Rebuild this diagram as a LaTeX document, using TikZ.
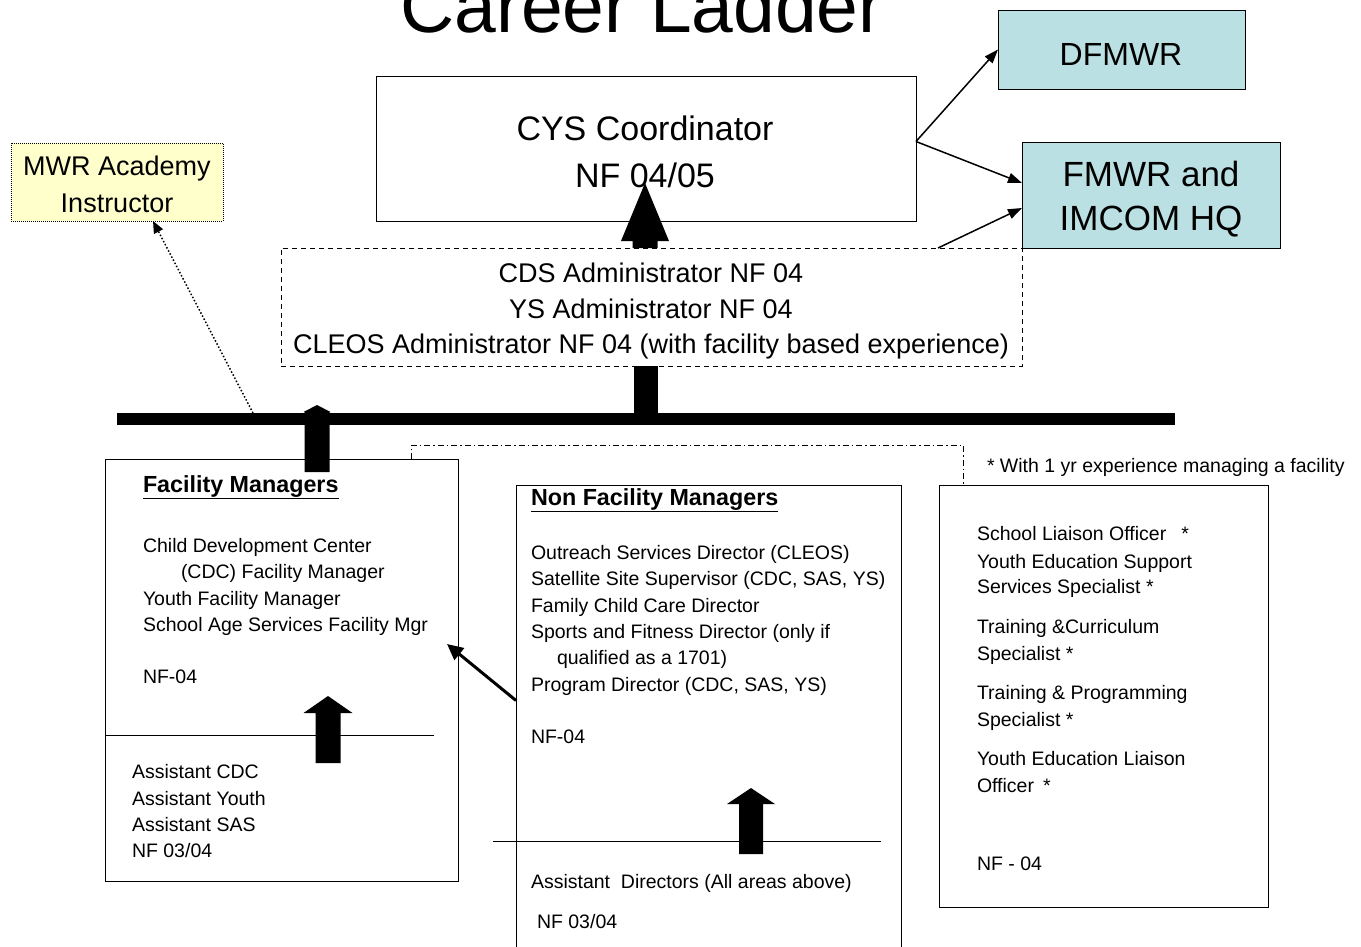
\documentclass[tikz,border=0pt]{standalone}
\usepackage{fontspec}
\setmainfont{Liberation Sans}
\usetikzlibrary{arrows.meta}
\definecolor{boxcyan}{RGB}{187,224,227}
\definecolor{boxyellow}{RGB}{255,255,204}
\newcommand\fsz[1]{\fontsize{#1}{#1}\selectfont}
% block arrow pointing up: x, bottom y, tip y, shaft width, head length, head width
\newcommand\blkarrow[6]{%
  \fill ({#1-#4/2},#2) -- ({#1-#4/2},{#3+#5}) -- ({#1-#6/2},{#3+#5}) -- (#1,#3)
        -- ({#1+#6/2},{#3+#5}) -- ({#1+#4/2},{#3+#5}) -- ({#1+#4/2},#2) -- cycle;}

\begin{document}
\begin{tikzpicture}[x=1pt,y=-1pt,
  every node/.style={inner sep=0pt,outer sep=0pt},
  frame/.style={draw,line width=1pt,anchor=north west},
  body/.style={anchor=base west,font=\fsz{19.5}},
  head/.style={anchor=base west,font=\fsz{23.3}\bfseries},
  thin/.style={line width=1.5pt,-{Triangle[length=14pt,width=10pt]}},
  dashdot/.style={line width=1pt,dash pattern=on 6pt off 3pt on 1.5pt off 3pt}]
\useasboundingbox (0,0) rectangle (1361,946);
\clip (0,0) rectangle (1361,946);

% title
\node[anchor=base,font=\fsz{75}] (title) at (642,32) {Career Ladder};

% top level boxes
\node[frame,minimum width=540pt,minimum height=145pt] (cys) at (376,76) {};
\node[anchor=base,font=\fsz{34}] (cys1) at (645,140) {CYS Coordinator};
\node[anchor=base,font=\fsz{34}] (cys2) at (645,187) {NF 04/05};

\node[frame,fill=boxcyan,minimum width=247pt,minimum height=79pt] (dfm) at (998,10) {};
\node[anchor=base,font=\fsz{32}] (dfm1) at (1121,65) {DFMWR};

\node[frame,fill=boxcyan,minimum width=258pt,minimum height=106pt] (fmw) at (1022,142) {};
\node[anchor=base,font=\fsz{35}] (fmw1) at (1151,186) {FMWR and};
\node[anchor=base,font=\fsz{35}] (fmw2) at (1151,230) {IMCOM HQ};

\node[frame,fill=boxyellow,line width=1pt,dash pattern=on 1pt off 1pt,
      minimum width=212pt,minimum height=78pt] (mwr) at (11,143) {};
\node[anchor=base,font=\fsz{27}] (mwr1) at (117,175) {MWR Academy};
\node[anchor=base,font=\fsz{27}] (mwr2) at (117,212) {Instructor};

\node[frame,dash pattern=on 5pt off 4pt,minimum width=741pt,minimum height=118pt] (cds) at (281,248) {};
\node[anchor=base,font=\fsz{27}] (cds1) at (651,282) {CDS Administrator NF 04};
\node[anchor=base,font=\fsz{27}] (cds2) at (651,318) {YS Administrator NF 04};
\node[anchor=base,font=\fsz{27}] (cds3) at (651,353) {CLEOS Administrator NF 04 (with facility based experience)};

% main bar
\node[fill=black,anchor=north west,minimum width=1058pt,minimum height=12pt] (bar) at (117,413) {};

% connectors on top
\draw[thin] ([yshift=7pt]cys.east) -- (dfm.west);
\draw[thin] ([yshift=7pt]cys.east) -- ([yshift=12pt]fmw.west);
\draw[thin] ([xshift=-84pt]cds.north east) -- ([yshift=-13pt]fmw.west);
\draw[line width=1.5pt,dash pattern=on 1.5pt off 2pt,-{Triangle[length=12pt,width=10pt]}]
  ([xshift=-393pt]bar.north) -- ([xshift=36pt]mwr.south);
\draw[line width=24pt] (cds.south -| bar.north) -- (bar.north);
\blkarrow{645}{248}{183}{25}{58}{48}

% facility managers
\node[frame,minimum width=353pt,minimum height=422pt] (fm) at (105,459) {};
\draw[line width=1pt] (fm.west |- 0,735) -- (434,735);
\node[head] (fmh) at (143,492) {\underline{Facility Managers}};
\node[body] (fm1) at (143,552) {Child Development Center};
\node[body] (fm2) at (181,578) {(CDC) Facility Manager};
\node[body] (fm3) at (143,605) {Youth Facility Manager};
\node[body] (fm4) at (143,631) {School Age Services Facility Mgr};
\node[body] (fm5) at (143,683) {NF-04};
\node[body] (fa1) at (132,778) {Assistant CDC};
\node[body] (fa2) at (132,805) {Assistant Youth};
\node[body] (fa3) at (132,831) {Assistant SAS};
\node[body] (fa4) at (132,857) {NF 03/04};
\blkarrow{317}{472}{405}{25}{7}{27}
\blkarrow{328}{763}{696}{25}{17}{49}

% non facility managers
\node[frame,minimum width=385pt,minimum height=480pt] (nf) at (516,485) {};
\draw[line width=1pt] (493,841) -- (881,841);
\node[head] (nfh) at (531,505) {\underline{Non Facility Managers}};
\node[body] (nf1) at (531,559) {Outreach Services Director (CLEOS)};
\node[body] (nf2) at (531,585) {Satellite Site Supervisor (CDC, SAS, YS)};
\node[body] (nf3) at (531,612) {Family Child Care Director};
\node[body] (nf4) at (531,638) {Sports and Fitness Director (only if};
\node[body] (nf5) at (557,664) {qualified as a 1701)};
\node[body] (nf6) at (531,691) {Program Director (CDC, SAS, YS)};
\node[body] (nf7) at (531,743) {NF-04};
\node[body] (na1) at (531,888) {Assistant\ \ Directors (All areas above)};
\node[body] (na2) at (537,928) {NF 03/04};
\blkarrow{751}{854}{788}{24}{16}{48}
\draw[line width=3pt,-{Triangle[length=16pt,width=15pt]}]
  ([yshift=24.5pt]nf.west) -- (447,644);

% specialists
\node[frame,minimum width=329pt,minimum height=422pt] (sp) at (939,485) {};
\node[body] (note) at (987,472) {* With 1 yr experience managing a facility};
\node[body] (sp1) at (977,540) {School Liaison Officer\hspace{15pt}*};
\node[body] (sp2) at (977,568) {Youth Education Support};
\node[body] (sp3) at (977,593) {Services Specialist *};
\node[body] (sp4) at (977,633) {Training \&Curriculum};
\node[body] (sp5) at (977,660) {Specialist *};
\node[body] (sp6) at (977,699) {Training \& Programming};
\node[body] (sp7) at (977,726) {Specialist *};
\node[body] (sp8) at (977,765) {Youth Education Liaison};
\node[body] (sp9) at (977,792) {Officer\hspace{9pt}*};
\node[body] (sp10) at (977,870) {NF - 04};

% link between the two lower groups
\draw[dashdot] ([xshift=129.5pt]fm.north) |- ([xshift=-140.5pt,yshift=40pt]sp.north)
  -- ([xshift=-140.5pt]sp.north);
\end{tikzpicture}
\end{document}
